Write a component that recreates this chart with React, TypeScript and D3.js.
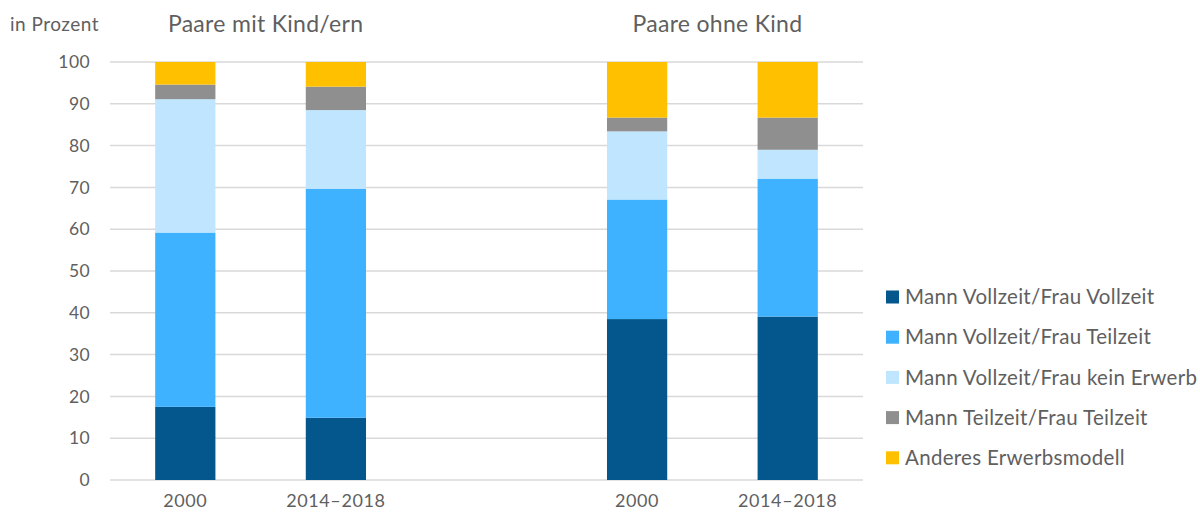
import * as d3 from 'd3';

const categories = ['2000', '2014–2018', '', '2000 ', '2014–2018 '];
const groupTitles = ['Paare mit Kind/ern', 'Paare ohne Kind'];
const seriesNames = [
  'Mann Vollzeit/Frau Vollzeit',
  'Mann Vollzeit/Frau Teilzeit',
  'Mann Vollzeit/Frau kein Erwerb',
  'Mann Teilzeit/Frau Teilzeit',
  'Anderes Erwerbsmodell',
];
const seriesColors = ['#03578C', '#3EB1FF', '#BFE5FF', '#8F8F8F', '#FFC000'];

// values per bar (in Prozent), order as seriesNames
const vollVoll = [17.5, 14.9, null, 38.5, 39.1];
const vollTeil = [41.7, 54.8, null, 28.6, 33.0];
const vollKein = [31.9, 18.8, null, 16.3, 6.9];
const teilTeil = [3.5, 5.6, null, 3.3, 7.7];
const anderes = [5.4, 5.9, null, 13.3, 13.3];

const yTicks = [0, 10, 20, 30, 40, 50, 60, 70, 80, 90, 100];

const font = 'Lato, "Open Sans", sans-serif';
const textColor = '#5f5f5f';

export default function App() {
  const width = 1200;
  const height = 514;
  const margin = { top: 62, right: 337, bottom: 34, left: 110 };
  const innerWidth = width - margin.left - margin.right;
  const innerHeight = height - margin.top - margin.bottom;

  const x = d3.scaleBand<string>().domain(categories).range([0, innerWidth]).paddingInner(0).paddingOuter(0);
  const y = d3.scaleLinear().domain([0, 100]).range([innerHeight, 0]);
  const barWidth = x.bandwidth() * 0.4;

  const series = [vollVoll, vollTeil, vollKein, teilTeil, anderes];
  const rows = categories.map((c, i) => {
    const row: Record<string, number | string> = { cat: c };
    seriesNames.forEach((s, k) => {
      row[s] = series[k][i] ?? 0;
    });
    return row;
  });
  const stacked = d3.stack<Record<string, number | string>>().keys(seriesNames)(rows);

  const groupCenters = [
    ((x(categories[0]) ?? 0) + (x(categories[1]) ?? 0)) / 2 + x.bandwidth() / 2,
    ((x(categories[3]) ?? 0) + (x(categories[4]) ?? 0)) / 2 + x.bandwidth() / 2,
  ];

  return (
    <svg width={width} height={height} style={{ display: 'block', position: 'absolute', left: 0, top: 0 }}>
      <rect width={width} height={height} fill="#fff" />
      <text x={10} y={31} fontFamily={font} fontSize={19} letterSpacing={0.5} fill={textColor}>
        in Prozent
      </text>
      <g transform={`translate(${margin.left},${margin.top})`}>
        {yTicks.map((t) => (
          <g key={t}>
            <line x1={0} x2={innerWidth} y1={y(t)} y2={y(t)} stroke="#D9D9D9" strokeWidth={1.5} />
            <text
              x={-20}
              y={y(t)}
              dy="0.35em"
              textAnchor="end"
              fontFamily={font}
              fontSize={17.5}
              letterSpacing={0.4}
              fill={textColor}
            >
              {t}
            </text>
          </g>
        ))}
        {stacked.map((layer, k) =>
          layer.map((d, i) =>
            series[k][i] == null ? null : (
              <rect
                key={`${k}-${i}`}
                x={(x(categories[i]) ?? 0) + (x.bandwidth() - barWidth) / 2}
                y={y(d[1])}
                width={barWidth}
                height={y(d[0]) - y(d[1])}
                fill={seriesColors[k]}
              />
            ),
          ),
        )}
        {categories.map((c) =>
          c.trim() === '' ? null : (
            <text
              key={c}
              x={(x(c) ?? 0) + x.bandwidth() / 2}
              y={innerHeight + 27}
              textAnchor="middle"
              fontFamily={font}
              fontSize={18}
              letterSpacing={0.6}
              fill={textColor}
            >
              {c.trim()}
            </text>
          ),
        )}
        {groupTitles.map((t, i) => (
          <text
            key={t}
            x={groupCenters[i] + 5}
            y={-30}
            textAnchor="middle"
            fontFamily={font}
            fontSize={23}
            letterSpacing={0.3}
            fill={textColor}
          >
            {t}
          </text>
        ))}
      </g>
      <g transform="translate(886,297)">
        {seriesNames.map((s, i) => (
          <g key={s} transform={`translate(0,${i * 40.2})`}>
            <rect x={0} y={-6.5} width={13} height={13} fill={seriesColors[i]} />
            <text x={19} y={0} dy="0.35em" fontFamily={font} fontSize={20.5} letterSpacing={0.3} fill={textColor}>
              {s}
            </text>
          </g>
        ))}
      </g>
    </svg>
  );
}
